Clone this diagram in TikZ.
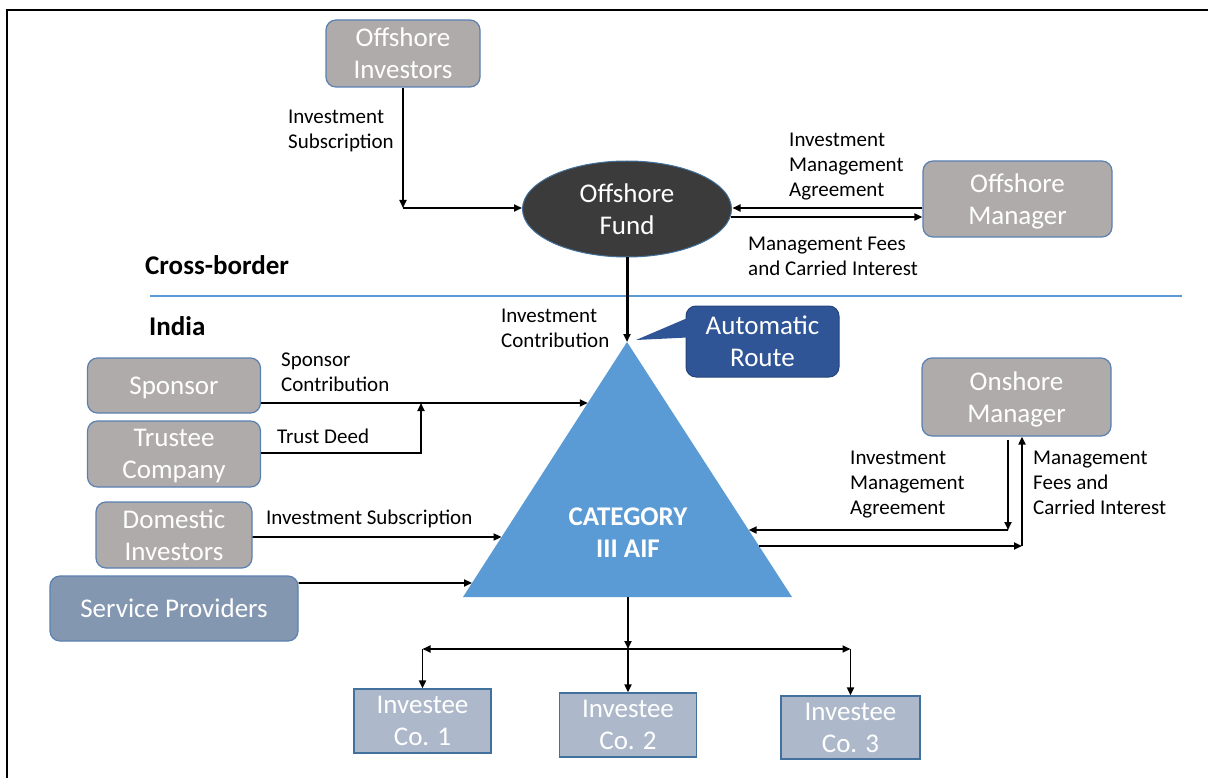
\documentclass[tikz,border=0pt]{standalone}
\usepackage{fontspec}
\setmainfont{Carlito}
\usetikzlibrary{arrows.meta,shapes.geometric,calc}
\definecolor{boxgray}{HTML}{AFABAB}
\definecolor{boxedge}{HTML}{5A80B0}
\definecolor{darkfund}{HTML}{3B3B3B}
\definecolor{tribl}{HTML}{5B9BD5}
\definecolor{routebl}{HTML}{2F5597}
\definecolor{servbl}{HTML}{8497B0}
\definecolor{invbl}{HTML}{ADB9CA}
\definecolor{invedge}{HTML}{41719C}
\begin{document}
\begin{tikzpicture}[x=1pt,y=-1pt,
  gbox/.style={draw=boxedge, fill=boxgray, rounded corners=10pt, line width=1.2pt, text=white,
    font=\fontsize{27}{32}\selectfont, align=center, inner sep=0pt, text depth=0pt},
  invbox/.style={draw=invedge, fill=invbl, line width=1.2pt, text=white,
    font=\fontsize{27}{32}\selectfont, align=center, inner sep=0pt, text depth=0pt},
  arr/.style={-{Triangle[length=8pt,width=7pt]}, line width=1.8pt},
  lbl/.style={font=\fontsize{21}{25}\selectfont, align=left, anchor=north west, inner sep=0pt},
  hdr/.style={font=\fontsize{27}{32}\selectfont\bfseries, anchor=west, inner sep=0pt}
]
\useasboundingbox (0,0) rectangle (1208,778);
% frame
\draw[line width=2.5pt] (7,778) -- (7,10) -- (1208,10);
% divider
\draw[tribl, line width=1.5pt] (150,296) -- (1182,296);
\node[hdr] (hcb) at (145,265) {Cross-border};
\node[hdr] (hin) at (149,326) {India};

% nodes
\node[gbox, minimum width=154pt, minimum height=67pt] (oi) at (403,53.5) {Offshore\\Investors};
\node[ellipse, draw=invedge, fill=darkfund, line width=1pt, minimum width=209pt, minimum height=96pt,
  inner sep=0pt, text=white, font=\fontsize{27}{32}\selectfont, align=center] (of) at (627,209) {Offshore\\Fund};
\node[gbox, minimum width=189pt, minimum height=76pt] (om) at (1017.5,199) {Offshore\\Manager};
\node[gbox, minimum width=173pt, minimum height=55pt] (sp) at (174,385.5) {Sponsor};
\node[gbox, minimum width=173pt, minimum height=66pt] (tc) at (174,454) {Trustee\\Company};
\node[gbox, minimum width=156pt, minimum height=66pt] (di) at (174,535) {Domestic\\Investors};
\node[gbox, fill=servbl, minimum width=248pt, minimum height=65pt] (svp) at (174,608.5) {Service Providers};
\node[gbox, minimum width=189pt, minimum height=78pt] (onm) at (1016.5,397) {Onshore\\Manager};
\node[invbox, minimum width=137pt, minimum height=64pt] (ic1) at (422.5,721) {Investee\\Co. 1};
\node[invbox, minimum width=137pt, minimum height=64pt] (ic2) at (628,725) {Investee\\Co. 2};
\node[invbox, minimum width=139pt, minimum height=63pt] (ic3) at (850.5,727.5) {Investee\\Co. 3};

% triangle
\coordinate (T) at (627,342);
\coordinate (BL) at (463,597);
\coordinate (BR) at (792,597);
\fill[tribl] (T) -- (BL) -- (BR) -- cycle;
\node[text=white, font=\fontsize{27}{32}\selectfont\bfseries, align=center] (cat) at (628,533) {CATEGORY\\III AIF};

% automatic route callout
\node[draw=routebl!80!black, fill=routebl, rounded corners=10pt, line width=1pt, text=white,
  font=\fontsize{27}{32}\selectfont, align=center, inner sep=0pt, minimum width=153pt, minimum height=71pt] (ar) at (762.5,341.5) {Automatic\\Route};
\coordinate (arTip) at (636,340);
\fill[routebl] ([yshift=23.5pt,xshift=2pt]ar.west) -- (arTip) -- ([yshift=4pt,xshift=2pt]ar.west) -- cycle;

% offshore connectors
\coordinate (j1) at (403,208);
\draw[arr] (oi.south) -- (j1);
\draw[arr] (j1) -- (j1 -| of.west);
\coordinate (omA) at ([yshift=-9pt]om.west);
\coordinate (omB) at ([yshift=-18pt]om.west);
\draw[arr] (omA) -- ($(omA -| of.east)+(0.5,0)$);
\draw[arr] ($(omB -| of.east)+(-1,0)$) -- (omB);
\draw[arr, line width=3pt] (of.south) -- (T);

% left connectors
\coordinate (spA) at ([yshift=-17.5pt]sp.east);
\draw[arr] (spA) -- ($(T)!0.2392!(BL)$);
\coordinate (tcA) at ([yshift=1pt]tc.east);
\coordinate (j3) at (421,403);
\draw[arr] (tcA) -| (j3);
\coordinate (diA) at ([yshift=-2pt]di.east);
\draw[arr] (diA) -- ($(T)!0.7647!(BL)$);
\coordinate (svA) at ([yshift=25.5pt]svp.east);
\draw[arr] (svA) -- ($(T)!0.945!(BL)$);

% right connectors
\coordinate (onA) at ([xshift=-8.5pt,yshift=-3pt]onm.south);
\coordinate (j4) at (1008,530);
\draw[arr] (onA) -- (j4);
\draw[arr] (j4) -- ($(T)!0.7373!(BR)$);
\coordinate (j5) at (1022,546);
\draw[arr] ($(T)!0.8!(BR)$) -- (j5);
\draw[arr] (j5) -- ([xshift=5.5pt]onm.south);

% bottom distribution
\coordinate (B0) at (628,597);
\coordinate (j6) at (628,649);
\draw[arr] (B0) -- (j6);
\coordinate (j7) at (j6 -| ic1.north);
\coordinate (j8) at (j6 -| ic3.north);
\draw[arr] (j6) -- (j7);
\draw[arr] (j6) -- (j8);
\draw[arr] (j7) -- (ic1.north);
\draw[arr] (j6) -- (ic2.north);
\draw[arr] (j8) -- (ic3.north);

% labels
\node[lbl] (l1) at (288,110) {Investment\\Subscription};
\node[lbl] (l2) at (789,133) {Investment\\Management\\Agreement};
\node[lbl] (l3) at (748,237) {Management Fees\\and Carried Interest};
\node[lbl] (l4) at (501,309) {Investment\\Contribution};
\node[lbl] (l5) at (281,353) {Sponsor\\Contribution};
\node[lbl, anchor=west] (l6) at (277,436) {Trust Deed};
\node[lbl, anchor=west] (l7) at (266,519) {Investment Subscription};
\node[lbl] (l8) at (850,451) {Investment\\Management\\Agreement};
\node[lbl] (l9) at (1033,451) {Management\\Fees and\\Carried Interest};
\end{tikzpicture}
\end{document}
